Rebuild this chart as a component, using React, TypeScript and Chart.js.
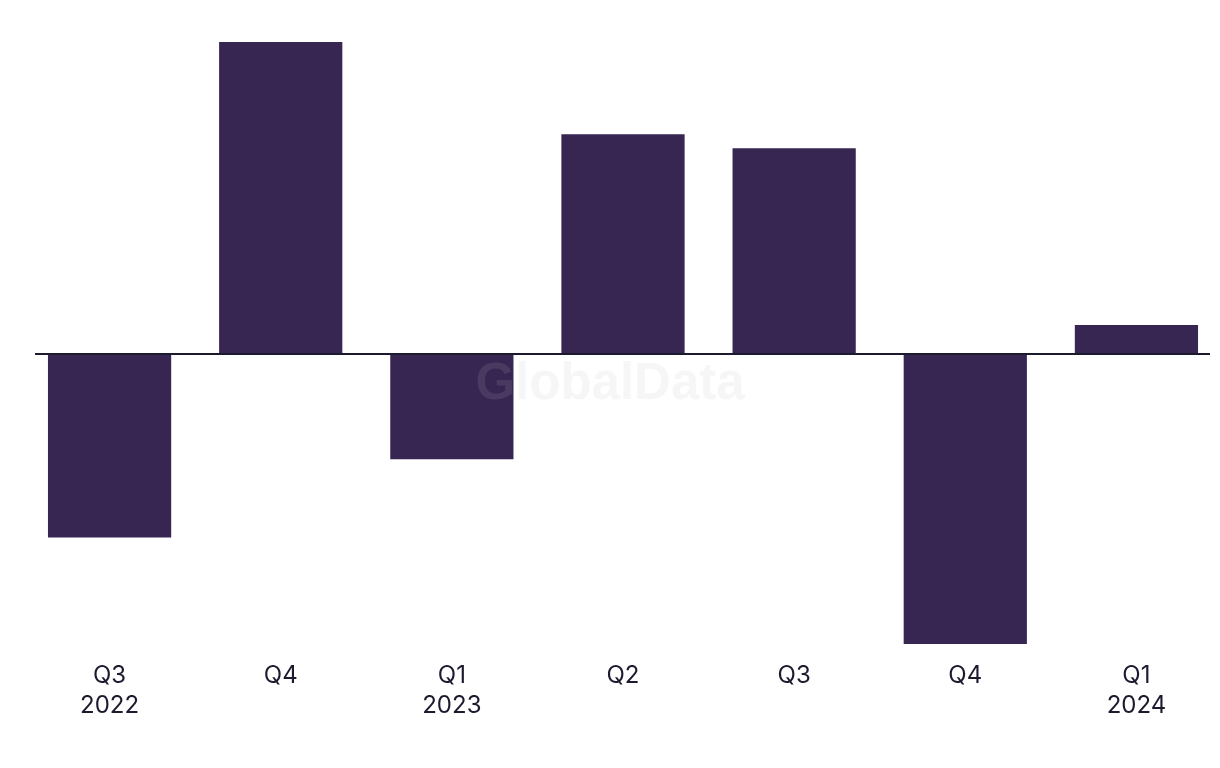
import React, { useEffect, useRef } from "react";
import { Chart, registerables } from "chart.js";

Chart.register(...registerables);

const categories: string[][] = [
  ["Q3", "2022"],
  ["Q4"],
  ["Q1", "2023"],
  ["Q2"],
  ["Q3"],
  ["Q4"],
  ["Q1", "2024"],
];
const values: number[] = [-18.3, 31.1, -10.5, 21.9, 20.5, -28.9, 2.9];
const yMin = -30;
const yMax = 32;

const BAR = "#372552";
const INK = "#1b1a2e";

const zeroLine = {
  id: "zeroLine",
  afterDatasetsDraw(chart: any) {
    const ctx = chart.ctx;
    const y = chart.scales.y.getPixelForValue(0);
    ctx.save();
    ctx.strokeStyle = INK;
    ctx.lineWidth = 2;
    ctx.beginPath();
    ctx.moveTo(35, y);
    ctx.lineTo(1210, y);
    ctx.stroke();
    ctx.font = "bold 51px 'Liberation Sans', Arial, sans-serif";
    ctx.fillStyle = "rgba(190,190,200,0.14)";
    ctx.textAlign = "center";
    ctx.textBaseline = "middle";
    ctx.fillText("GlobalData", 610, 385);
    ctx.restore();
  },
};

export default function App() {
  const ref = useRef<HTMLCanvasElement | null>(null);
  useEffect(() => {
    if (!ref.current) return;
    const chart = new Chart(ref.current, {
      type: "bar",
      data: {
        labels: categories,
        datasets: [
          {
            data: values,
            backgroundColor: BAR,
            barPercentage: 0.72,
            categoryPercentage: 1,
          },
        ],
      },
      options: {
        responsive: false,
        animation: false,
        layout: { padding: { left: 24, right: 0, top: 33, bottom: 41 } },
        plugins: { legend: { display: false }, tooltip: { enabled: false } },
        scales: {
          x: {
            grid: { display: false, drawTicks: false },
            border: { display: false },
            ticks: {
              color: INK,
              padding: 6,
              maxRotation: 0,
              autoSkip: false,
              font: { family: "Inter, 'Noto Sans', sans-serif", size: 24, lineHeight: "30px" },
            },
          },
          y: {
            display: false,
            min: yMin,
            max: yMax,
          },
        },
      },
      plugins: [zeroLine],
    });
    return () => chart.destroy();
  }, []);
  return (
    <div style={{ position: "absolute", left: 0, top: 0, width: 1220, height: 768, overflow: "hidden", background: "#fff" }}>
      <canvas ref={ref} width={1222} height={768} style={{ display: "block" }} />
    </div>
  );
}
